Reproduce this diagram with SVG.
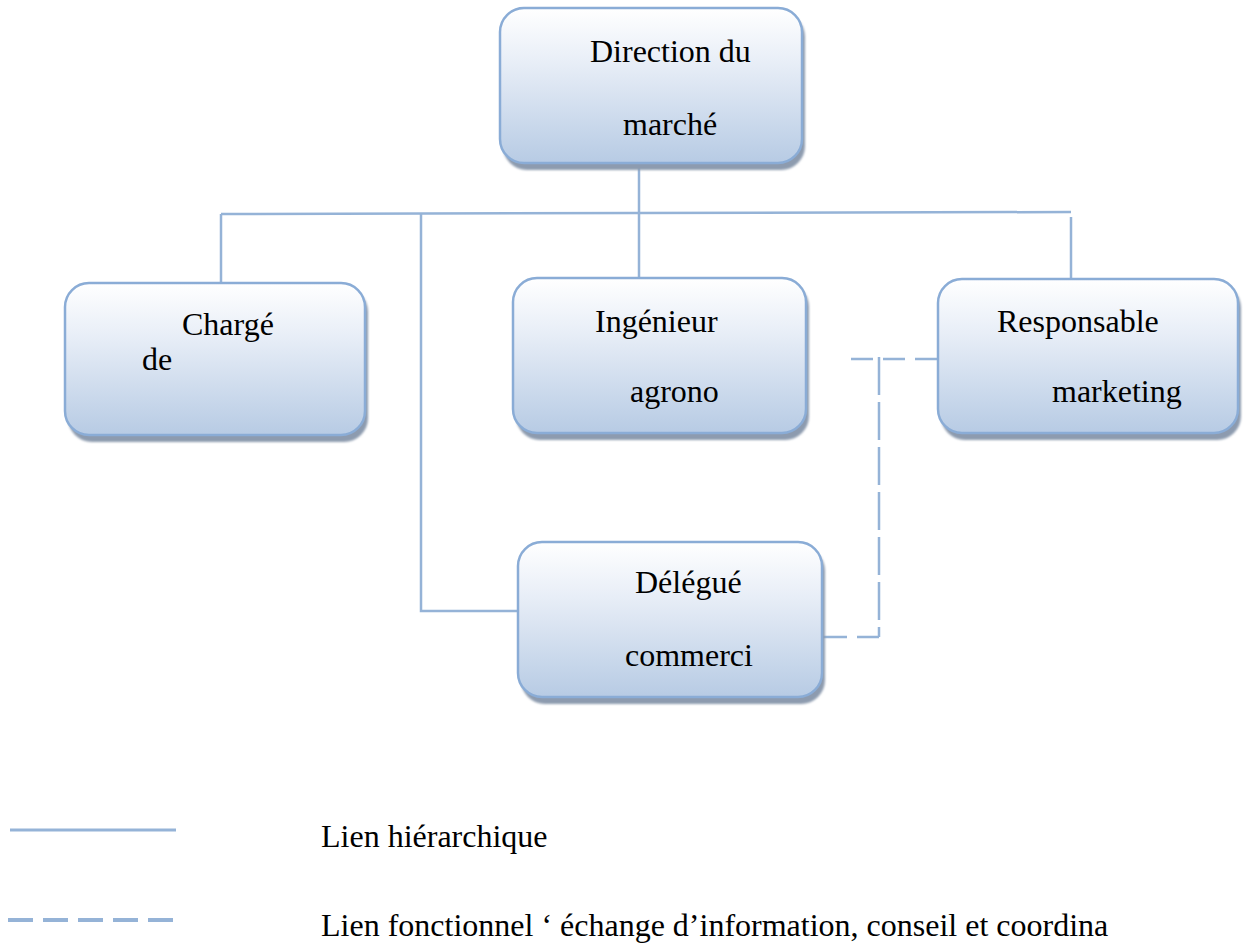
<svg xmlns="http://www.w3.org/2000/svg" width="1243" height="946" viewBox="0 0 1243 946">
<defs>
<linearGradient id="g" x1="0" y1="0" x2="0" y2="1">
<stop offset="0" stop-color="#FFFFFF"/>
<stop offset="0.35" stop-color="#E8EEF7"/>
<stop offset="1" stop-color="#B7CBE4"/>
</linearGradient>
<filter id="sh" x="-5%" y="-5%" width="115%" height="120%">
<feGaussianBlur stdDeviation="1.2"/>
</filter>
<style>
.shadow{fill:#8D9BAF;filter:url(#sh);}
.box{fill:url(#g);stroke:#8AACD6;stroke-width:2.5;}
.t{font-family:"Liberation Serif","Times New Roman",serif;font-size:32px;fill:#000;}
.h{stroke:#95B3D7;stroke-width:2.5;fill:none;}
.d{stroke:#95B3D7;stroke-width:2.5;fill:none;}
</style>
</defs>
<rect width="1243" height="946" fill="#FFFFFF"/>
<g id="connectors">
<line class="h" x1="639" y1="163" x2="639" y2="278"/>
<line class="h" x1="221" y1="214" x2="1071" y2="212"/>
<line class="h" x1="221" y1="214" x2="221" y2="283"/>
<polyline class="h" points="421,213 421,611 518,611"/>
<line class="h" x1="1071" y1="217" x2="1071" y2="279"/>
<line class="d" x1="851" y1="359" x2="938" y2="359" stroke-dasharray="22 10"/>
<line class="d" x1="879" y1="357" x2="879" y2="637" stroke-dasharray="38 7"/>
<line class="d" x1="822" y1="637" x2="879" y2="637" stroke-dasharray="25 10"/>
</g>
<g id="n-direction">
<rect class="shadow" x="503" y="13" width="302" height="157" rx="24"/>
<rect class="box" x="500" y="8" width="302" height="155" rx="24"/>
<text class="t" x="590" y="62">Direction du</text>
<text class="t" x="623" y="135">marché</text>
</g>
<g id="n-charge">
<rect class="shadow" x="68" y="288" width="300" height="154" rx="24"/>
<rect class="box" x="65" y="283" width="300" height="152" rx="24"/>
<text class="t" x="182" y="335">Chargé</text>
<text class="t" x="142" y="370">de</text>
</g>
<g id="n-ingenieur">
<rect class="shadow" x="516" y="283" width="293" height="157" rx="24"/>
<rect class="box" x="513" y="278" width="293" height="155" rx="24"/>
<text class="t" x="595" y="332">Ingénieur</text>
<text class="t" x="630" y="402">agrono</text>
</g>
<g id="n-responsable">
<rect class="shadow" x="941" y="284" width="300" height="156" rx="24"/>
<rect class="box" x="938" y="279" width="300" height="154" rx="24"/>
<text class="t" x="997" y="332">Responsable</text>
<text class="t" x="1052" y="402">marketing</text>
</g>
<g id="n-delegue">
<rect class="shadow" x="521" y="547" width="304" height="157" rx="24"/>
<rect class="box" x="518" y="542" width="304" height="155" rx="24"/>
<text class="t" x="635" y="593">Délégué</text>
<text class="t" x="625" y="666">commerci</text>
</g>
<g id="legend">
<line x1="10" y1="830" x2="176" y2="830" stroke="#95B3D7" stroke-width="3"/>
<line x1="8" y1="920" x2="177" y2="920" stroke="#95B3D7" stroke-width="4" stroke-dasharray="25 10"/>
<text class="t" x="321" y="847">Lien hiérarchique</text>
<text class="t" x="321" y="936">Lien fonctionnel ‘ échange d’information, conseil et coordina</text>
</g>
</svg>
